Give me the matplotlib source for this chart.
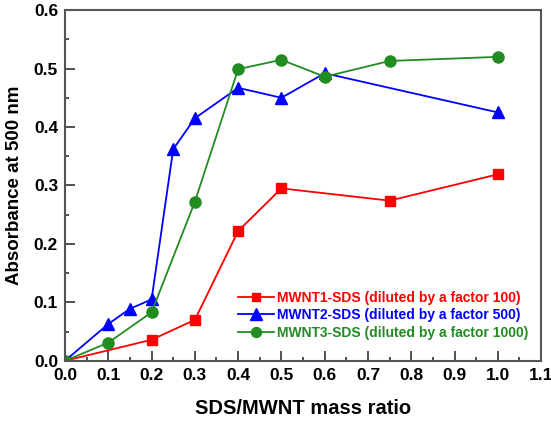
import matplotlib
matplotlib.use("Agg")
from matplotlib import pyplot as plt
from matplotlib.ticker import MultipleLocator

plt.rcParams['font.family'] = ['Liberation Sans', 'DejaVu Sans']
plt.rcParams['font.weight'] = 'bold'

# MWNT1-SDS
x1 = [0.0, 0.2, 0.3, 0.4, 0.5, 0.75, 1.0]
y1 = [0.0, 0.036, 0.070, 0.222, 0.295, 0.274, 0.319]
# MWNT2-SDS
x2 = [0.0, 0.1, 0.15, 0.2, 0.25, 0.3, 0.4, 0.5, 0.6, 1.0]
y2 = [0.0, 0.063, 0.089, 0.105, 0.362, 0.415, 0.467, 0.450, 0.492, 0.425]
# MWNT3-SDS
x3 = [0.0, 0.1, 0.2, 0.3, 0.4, 0.5, 0.6, 0.75, 1.0]
y3 = [0.0, 0.031, 0.083, 0.272, 0.499, 0.515, 0.486, 0.513, 0.520]

labels = ['MWNT1-SDS (diluted by a factor 100)',
          'MWNT2-SDS (diluted by a factor 500)',
          'MWNT3-SDS (diluted by a factor 1000)']
colors = ['#ff0000', '#0000ff', '#228b22']

fig = plt.figure(figsize=(5.51, 4.21), dpi=100)
ax = fig.add_axes([0.118, 0.143, 0.864, 0.833])

ax.plot(x1, y1, color=colors[0], marker='s', markersize=7, lw=1.3, label=labels[0])
ax.plot(x2, y2, color=colors[1], marker='^', markersize=9, lw=1.3, label=labels[1])
ax.plot(x3, y3, color=colors[2], marker='o', markersize=8, lw=1.3, label=labels[2])

ax.set_xlim(0, 1.1)
ax.set_ylim(0, 0.6)
ax.xaxis.set_major_locator(MultipleLocator(0.1))
ax.xaxis.set_minor_locator(MultipleLocator(0.05))
ax.yaxis.set_major_locator(MultipleLocator(0.1))
ax.yaxis.set_minor_locator(MultipleLocator(0.05))
ax.xaxis.set_major_formatter(plt.FormatStrFormatter('%.1f'))
ax.yaxis.set_major_formatter(plt.FormatStrFormatter('%.1f'))
ax.tick_params(which='both', direction='in', top=False, right=False,
               labelsize=12.5, color='#333333', width=1.2)
ax.tick_params(which='major', length=7, pad=5)
ax.tick_params(which='minor', length=3)
for s in ax.spines.values():
    s.set_linewidth(1.5)
    s.set_color('#555555')

ax.set_xlabel('SDS/MWNT mass ratio', fontsize=14.5, fontweight='bold', labelpad=12)
ax.set_ylabel('Absorbance at 500 nm', fontsize=13.5, fontweight='bold', labelpad=8)

leg = ax.legend(loc='lower right', bbox_to_anchor=(1.0, 0.025), frameon=False,
                fontsize=10, handlelength=2.6, handletextpad=0.2, labelspacing=0.25,
                markerscale=0.9)
for t, c in zip(leg.get_texts(), colors):
    t.set_color(c)

fig.savefig('out.png', dpi=100)
